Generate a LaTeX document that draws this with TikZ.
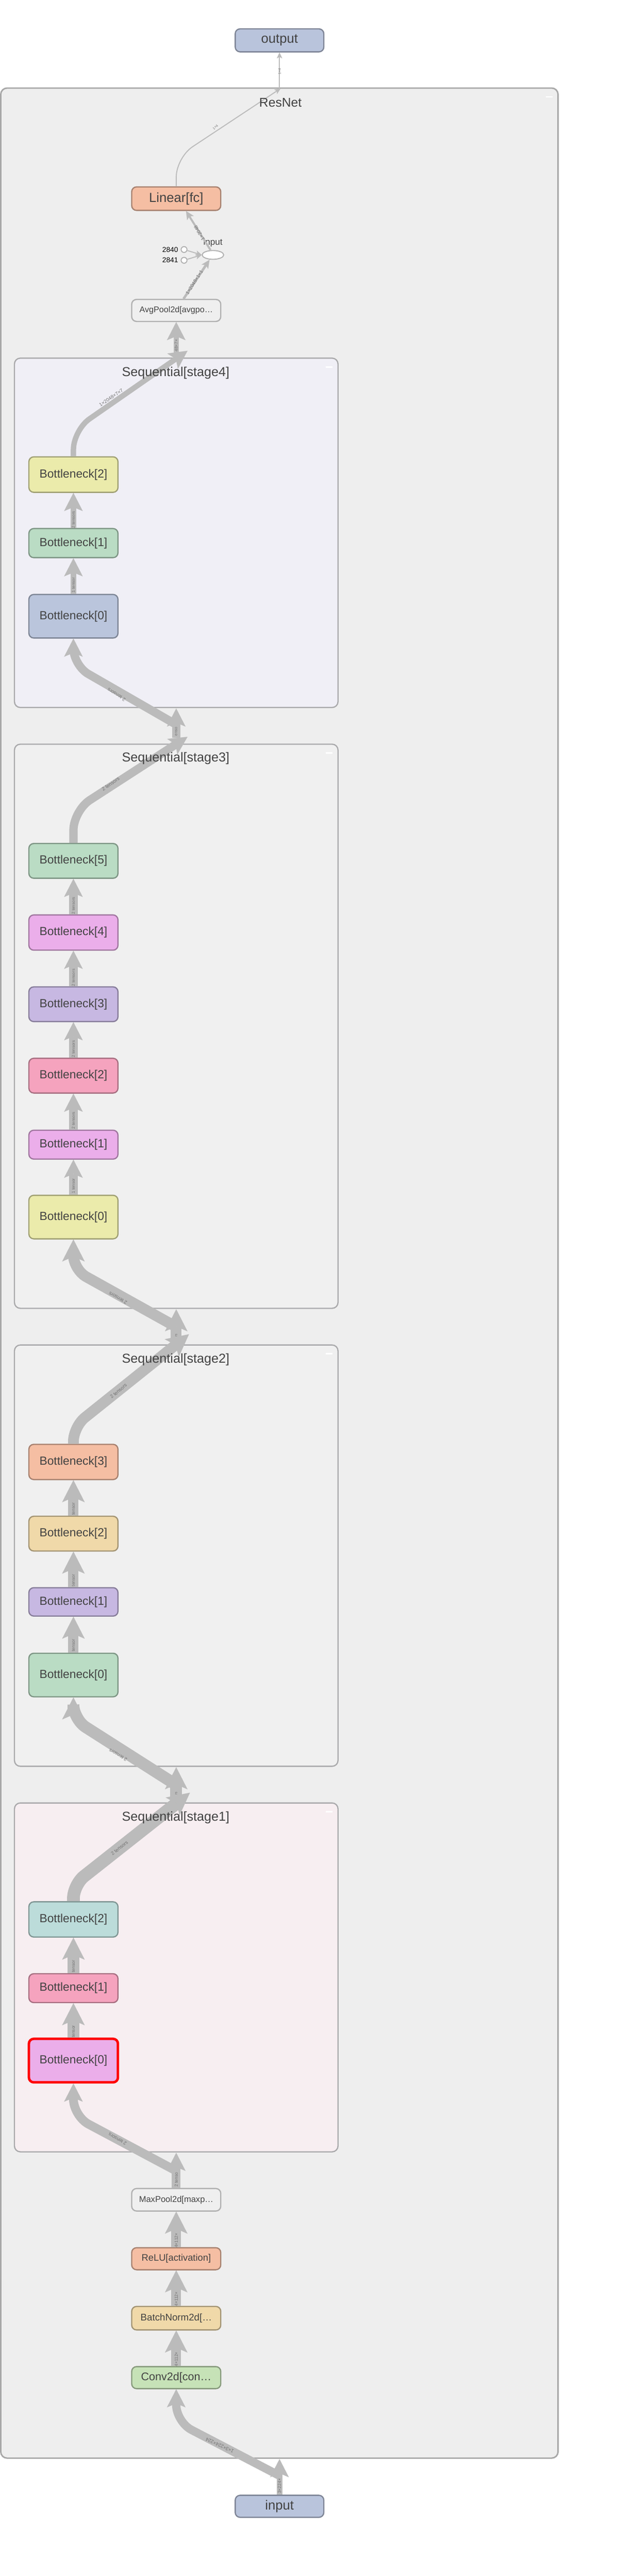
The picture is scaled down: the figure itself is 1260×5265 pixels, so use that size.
\documentclass[tikz,border=0pt]{standalone}
\usepackage{fontspec}
\setmainfont{Liberation Sans}
\usetikzlibrary{arrows.meta,shapes.geometric}
\newcommand\myfs[1]{\fontsize{#1pt}{#1pt}\selectfont}
\definecolor{edgec}{RGB}{187,187,187}
\definecolor{resbg}{RGB}{238,238,238}
\definecolor{resb}{RGB}{168,168,168}
\definecolor{clb}{RGB}{170,170,172}
\definecolor{sfourbg}{RGB}{240,239,246}
\definecolor{sthreebg}{RGB}{240,240,240}
\definecolor{stwobg}{RGB}{240,240,240}
\definecolor{sonebg}{RGB}{247,238,241}
\definecolor{txtc}{RGB}{66,66,66}
\definecolor{labc}{RGB}{115,115,115}
\definecolor{outblue}{RGB}{185,196,220}
\definecolor{salmon}{RGB}{245,190,163}
\definecolor{yel}{RGB}{235,235,171}
\definecolor{grn}{RGB}{186,220,196}
\definecolor{blu}{RGB}{186,197,220}
\definecolor{vio}{RGB}{235,174,234}
\definecolor{pur}{RGB}{199,184,226}
\definecolor{pnk}{RGB}{245,163,190}
\definecolor{tan}{RGB}{240,217,169}
\definecolor{teal}{RGB}{188,220,218}
\definecolor{cgrn}{RGB}{198,226,183}
\definecolor{poolfill}{RGB}{239,239,239}
\definecolor{poolb}{RGB}{176,176,176}
\tikzset{
  edg/.style={draw=edgec, line cap=butt},
  arrA/.style={-{Stealth[length=37pt,width=38pt,inset=8pt,line width=0.01pt]}},
  arrB/.style={-{Stealth[length=45pt,width=46pt,inset=10pt,line width=0.01pt]}},
  arrM/.style={-{Stealth[length=17pt,width=16pt,inset=4pt,line width=0.01pt]}},
  arrT/.style={-{Stealth[length=12pt,width=11pt,inset=3pt,line width=0.01pt]}},
  nd/.style={rectangle, rounded corners=10pt, line width=2.5pt, inner sep=0pt, text=txtc, align=center},
  box/.style={nd, fill=#1, draw=#1!68!black},
  bneck/.style={box=#1, minimum width=182pt, font=\myfs{24}},
  cl/.style={draw=clb, line width=2.5pt, rounded corners=12pt},
  ttl/.style={inner sep=0pt, text=txtc, font=\myfs{26.5}},
  elab/.style={inner sep=0pt, text=labc, font=\myfs{9}},
  icon/.style={draw=white, line width=3pt},
}
\begin{document}
\begin{tikzpicture}[x=1pt,y=-1pt]
\path[use as bounding box, fill=white] (0,0) rectangle (1260,5265);
% clusters
\draw[draw=resb, fill=resbg, line width=3pt, rounded corners=13pt] (1.5,180) rectangle (1140,5024);
\draw[cl, fill=sfourbg] (29.5,732) rectangle (690.5,1446);
\draw[cl, fill=sthreebg] (29.5,1521) rectangle (690.5,2674);
\draw[cl, fill=stwobg] (29.5,2749) rectangle (690.5,3610);
\draw[cl, fill=sonebg] (29.5,3685) rectangle (690.5,4398);
\draw[icon] (1115,198) -- (1129,198);
\draw[icon] (665,750) -- (679,750);
\draw[icon] (665,1539) -- (679,1539);
\draw[icon] (665,2767) -- (679,2767);
\draw[icon] (665,3703) -- (679,3703);

% nodes
\node[box=outblue, minimum width=181pt, minimum height=47pt, font=\myfs{27}] (out) at (571,82.5) {output};
\node[box=salmon, minimum width=182pt, minimum height=48pt, font=\myfs{27}] (lin) at (360,406) {Linear[fc]};
\node[nd, fill=poolfill, draw=poolb, minimum width=182pt, minimum height=45pt, font=\myfs{17}] (avg) at (360,634.5) {AvgPool2d[avgpo…};
\node[ellipse, draw=poolb, fill=white, line width=2pt, minimum width=44pt, minimum height=18pt, inner sep=0pt] (ell) at (435,521) {};
\node[inner sep=0pt, text=txtc, font=\myfs{18}] (elllab) at (435,496) {input};
\node[circle, draw=poolb, fill=white, line width=2pt, minimum size=12pt, inner sep=0pt] (c40) at (376,510) {};
\node[circle, draw=poolb, fill=white, line width=2pt, minimum size=12pt, inner sep=0pt] (c41) at (376,532) {};
\node[inner sep=0pt, anchor=east, font=\myfs{14.5}] (l40) at (364,510) {2840};
\node[inner sep=0pt, anchor=east, font=\myfs{14.5}] (l41) at (364,532) {2841};

\node[bneck=yel, minimum height=72.5pt] (s4b2) at (150,970) {Bottleneck[2]};
\node[bneck=grn, minimum height=59.5pt] (s4b1) at (150,1110) {Bottleneck[1]};
\node[bneck=blu, minimum height=89pt] (s4b0) at (150,1259.5) {Bottleneck[0]};

\node[bneck=grn, minimum height=71pt] (s3b5) at (150,1759.5) {Bottleneck[5]};
\node[bneck=vio, minimum height=72pt] (s3b4) at (150,1906) {Bottleneck[4]};
\node[bneck=pur, minimum height=71pt] (s3b3) at (150,2052.5) {Bottleneck[3]};
\node[bneck=pnk, minimum height=71pt] (s3b2) at (150,2198.5) {Bottleneck[2]};
\node[bneck=vio, minimum height=59pt] (s3b1) at (150,2339.5) {Bottleneck[1]};
\node[bneck=yel, minimum height=89pt] (s3b0) at (150,2487.5) {Bottleneck[0]};

\node[bneck=salmon, minimum height=72pt] (s2b3) at (150,2988) {Bottleneck[3]};
\node[bneck=tan, minimum height=71pt] (s2b2) at (150,3134.5) {Bottleneck[2]};
\node[bneck=pur, minimum height=58pt] (s2b1) at (150,3274) {Bottleneck[1]};
\node[bneck=grn, minimum height=89pt] (s2b0) at (150,3423.5) {Bottleneck[0]};

\node[bneck=teal, minimum height=72pt] (s1b2) at (150,3923) {Bottleneck[2]};
\node[bneck=pnk, minimum height=59pt] (s1b1) at (150,4063.5) {Bottleneck[1]};
\node[bneck=vio, draw=red, line width=5pt, minimum height=89pt] (s1b0) at (150,4211.5) {Bottleneck[0]};

\node[nd, fill=poolfill, draw=poolb, minimum width=182pt, minimum height=46pt, font=\myfs{17.4}] (mp) at (360,4496) {MaxPool2d[maxp…};
\node[box=salmon, minimum width=182pt, minimum height=45pt, font=\myfs{19.3}] (relu) at (360,4616.5) {ReLU[activation]};
\node[box=tan, minimum width=182pt, minimum height=48pt, font=\myfs{19.7}] (bnorm) at (360,4738) {BatchNorm2d[…};
\node[box=cgrn, minimum width=182pt, minimum height=45pt, font=\myfs{22.7}] (conv) at (360,4859.5) {Conv2d[con…};
\node[box=outblue, minimum width=181pt, minimum height=45pt, font=\myfs{27}] (inp) at (571,5122.5) {input};

% boundary coordinates
\coordinate (rtop) at (573,181);
\coordinate (rtopo) at (571,182);
\coordinate (s4o) at (383,717);
\coordinate (s3o) at (383,1506);
\coordinate (s2o) at (386,2727);
\coordinate (s1o) at (388,3664);
\coordinate (s4i) at (360,1448);
\coordinate (s3i) at (360,2676);
\coordinate (s2i) at (360,3612);
\coordinate (s1i) at (360,4400);
\coordinate (rbot) at (571,5026);

% top edges
\draw[edg, line width=2pt, arrT] (c40) -- (ell.west);
\draw[edg, line width=2pt, arrT] (c41) -- (ell.west);
\draw[edg, line width=5pt, arrM] ([xshift=15pt]avg.north) -- ([xshift=-7pt]ell.south);
\draw[edg, line width=4pt, arrM] ([xshift=-5pt]ell.north) -- ([xshift=20pt]lin.south);
\draw[edg, line width=2pt, rounded corners=40pt, arrT] (lin.north) -- (360,322) -- (rtop);
\draw[edg, line width=2pt, arrT] (rtopo) -- (out.south);

% stage4
\draw[edg, line width=10pt, arrA] (360,722) -- (avg.south);
\draw[edg, line width=11pt, rounded corners=40pt, arrA] (s4b2.north) -- (150,879) -- (s4o);
\draw[edg, line width=11pt, arrA] (s4b1.north) -- (s4b2.south);
\draw[edg, line width=11pt, arrA] (s4b0.north) -- (s4b1.south);
\draw[edg, line width=17pt, arrA] (360,1508) -- (s4i);
\draw[edg, line width=17pt, rounded corners=35pt, arrA] (360,1481) -- (150,1360) -- (s4b0.south);

% stage3
\draw[edg, line width=17pt, rounded corners=40pt, arrA] (s3b5.north) -- (150,1657) -- (s3o);
\draw[edg, line width=17pt, arrA] (s3b4.north) -- (s3b5.south);
\draw[edg, line width=17pt, arrA] (s3b3.north) -- (s3b4.south);
\draw[edg, line width=17pt, arrA] (s3b2.north) -- (s3b3.south);
\draw[edg, line width=17pt, arrA] (s3b1.north) -- (s3b2.south);
\draw[edg, line width=17pt, arrA] (s3b0.north) -- (s3b1.south);
\draw[edg, line width=22pt, arrB] (360,2735) -- (s3i);
\draw[edg, line width=22pt, rounded corners=30pt, arrB] (360,2712) -- (150,2595) -- (s3b0.south);

% stage2
\draw[edg, line width=22pt, rounded corners=30pt, arrB] (s2b3.north) -- (150,2916) -- (s2o);
\draw[edg, line width=21pt, arrB] (s2b2.north) -- (s2b3.south);
\draw[edg, line width=21pt, arrB] (s2b1.north) -- (s2b2.south);
\draw[edg, line width=21pt, arrB] (s2b0.north) -- (s2b1.south);
\draw[edg, line width=24pt, arrB] (360,3672) -- (s2i);
\draw[edg, line width=24pt, rounded corners=30pt, arrB] (360,3648) -- (150,3514) -- (s2b0.south);

% stage1
\draw[edg, line width=26pt, rounded corners=28pt, arrB] (s1b2.north) -- (150,3852) -- (s1o);
\draw[edg, line width=25pt, arrB] (s1b1.north) -- (s1b2.south);
\draw[edg, line width=25pt, arrB] (s1b0.north) -- (s1b1.south);
\draw[edg, line width=18pt, arrA] (mp.north) -- (s1i);
\draw[edg, line width=18pt, rounded corners=35pt, arrA] (360,4437) -- (150,4325) -- (s1b0.south);

% stem
\draw[edg, line width=20pt, arrB] (relu.north) -- (mp.south);
\draw[edg, line width=20pt, arrB] (bnorm.north) -- (relu.south);
\draw[edg, line width=20pt, arrB] (conv.north) -- (bnorm.south);
\draw[edg, line width=12pt, arrA] (inp.north) -- (rbot);
\draw[edg, line width=17pt, rounded corners=35pt, arrA] (571,5060) -- (360,4950) -- (conv.south);

% titles
\node[ttl, font=\myfs{26}] (tres) at (573,210) {ResNet};
\node[ttl] (t4) at (359,762) {Sequential[stage4]};
\node[ttl] (t3) at (359,1550) {Sequential[stage3]};
\node[ttl] (t2) at (359,2779) {Sequential[stage2]};
\node[ttl] (t1) at (359,3715) {Sequential[stage1]};

% edge labels
\node[elab, font=\myfs{7}, rotate=90] at (571,146) {1×4};
\node[elab, font=\myfs{7}, rotate=42] at (440,260) {1×4};
\node[elab, font=\myfs{10}, rotate=120] at (407,476) {1×2048};
\node[elab, font=\myfs{10}, rotate=57] at (397,577) {1×2048×1×1};
\node[elab, rotate=90] at (360,706) {48×7×};
\node[elab, font=\myfs{10}, rotate=34] at (227,813) {1×2048×7×7};
\node[elab, font=\myfs{8.5}, rotate=90] at (150,1062) {2 tensors};
\node[elab, font=\myfs{8.5}, rotate=90] at (150,1196) {1 tensor};
\node[elab, font=\myfs{10}, rotate=148] at (238,1420) {2 tensors};
\node[elab, font=\myfs{8}, rotate=90] at (360,1495) {enso};
\node[elab, font=\myfs{10}, rotate=34] at (226,1602) {2 tensors};
\node[elab, font=\myfs{8.5}, rotate=90] at (150,1851) {2 tensors};
\node[elab, font=\myfs{8.5}, rotate=90] at (150,1998) {2 tensors};
\node[elab, font=\myfs{8.5}, rotate=90] at (150,2144) {2 tensors};
\node[elab, font=\myfs{8.5}, rotate=90] at (150,2290) {2 tensors};
\node[elab, font=\myfs{8.5}, rotate=90] at (150,2424) {1 tensor};
\node[elab, font=\myfs{10}, rotate=150] at (241,2653) {2 tensors};
\node[elab, font=\myfs{7}, rotate=90] at (360,2729) {rs};
\node[elab, font=\myfs{10}, rotate=40] at (242,2843) {2 tensors};
\node[elab, rotate=90] at (150,3084) {tensor};
\node[elab, rotate=90] at (150,3230) {tensor};
\node[elab, rotate=90] at (150,3363) {tensor};
\node[elab, font=\myfs{10}, rotate=149] at (241,3587) {2 tensors};
\node[elab, font=\myfs{7}, rotate=90] at (360,3665) {rs};
\node[elab, font=\myfs{10}, rotate=39] at (244,3777) {2 tensors};
\node[elab, rotate=90] at (150,4019) {tensor};
\node[elab, rotate=90] at (150,4152) {tensor};
\node[elab, font=\myfs{10}, rotate=150] at (240,4372) {2 tensors};
\node[elab, rotate=90] at (360,4455) {2 tenso};
\node[elab, rotate=90] at (360,4579) {4×112×};
\node[elab, rotate=90] at (360,4699) {4×112×};
\node[elab, rotate=90] at (360,4822) {4×112×};
\node[elab, font=\myfs{10}, rotate=155] at (449,4998) {1×3×224×224};
\node[elab, rotate=90] at (571,5081) {3×224×};
\end{tikzpicture}
\end{document}
